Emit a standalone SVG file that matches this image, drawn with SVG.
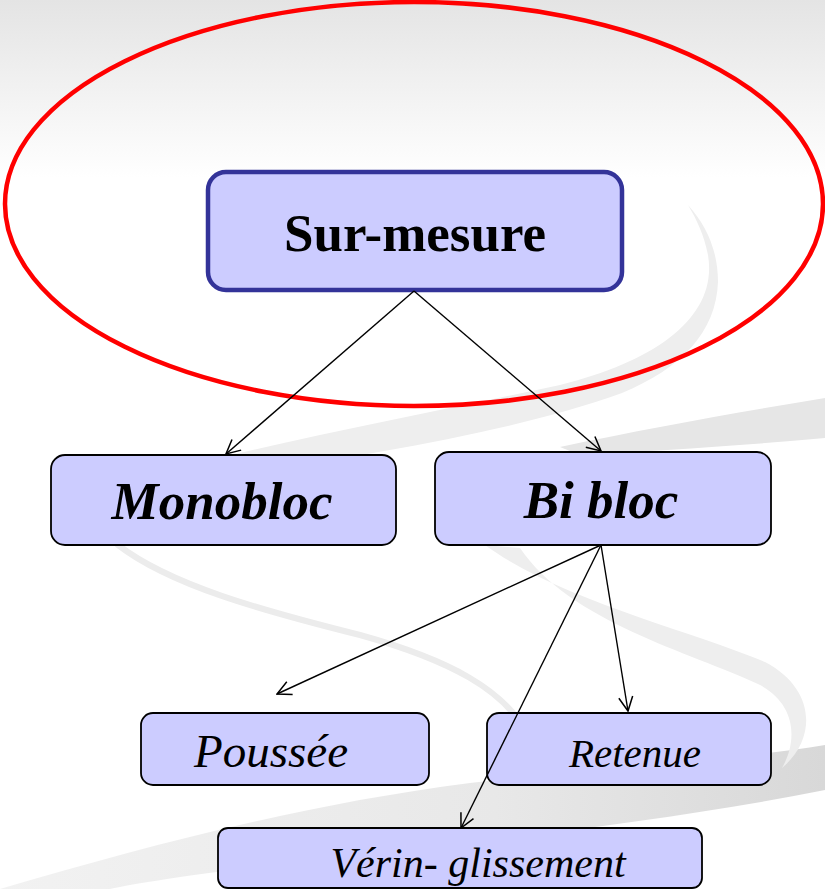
<svg xmlns="http://www.w3.org/2000/svg" width="825" height="889" viewBox="0 0 825 889">
<defs>
<linearGradient id="bg" x1="0" y1="0" x2="0" y2="1">
<stop offset="0" stop-color="#e4e4e4"/>
<stop offset="0.2" stop-color="#ffffff"/>
<stop offset="1" stop-color="#ffffff"/>
</linearGradient>
<linearGradient id="band" x1="0" y1="0" x2="1" y2="0">
<stop offset="0" stop-color="#f2f2f2"/>
<stop offset="0.6" stop-color="#e8e8e8"/>
<stop offset="1" stop-color="#d8d8d8"/>
</linearGradient>
<marker id="arr" viewBox="0 0 16 16" refX="15" refY="8" markerWidth="16" markerHeight="16" markerUnits="userSpaceOnUse" orient="auto">
<path d="M1,1 L15,8 L1,15" fill="none" stroke="#000" stroke-width="1.5"/>
</marker>
</defs>
<style>
.node{fill:#ccccff;stroke:#000;stroke-width:1.8}
.t{font-family:"Liberation Serif","Times New Roman",serif;fill:#000;text-anchor:middle}
.bi{font-weight:bold;font-style:italic;font-size:53px}
.it{font-style:italic}
.conn line{stroke:#000;stroke-width:1.4;marker-end:url(#arr)}
.sw{fill:#eeeeee}
</style>
<rect width="825" height="889" fill="url(#bg)"/>
<g id="background">
<path class="sw" d="M140,478 C260,445 420,415 560,385 C660,360 718,315 708,255 C704,235 697,220 688,205 C706,225 718,250 718,282 C716,332 682,368 622,393 C482,443 300,462 150,492 Z" fill="#f0f0f0"/>
<path d="M560,447 C650,428 740,412 825,398 L825,438 C740,446 650,451 580,455 Z" fill="#e6e6e6"/>
<path d="M0,889 C150,845 300,805 470,783 C600,768 720,762 825,745 L825,790 C700,815 560,832 430,847 C280,862 150,880 110,889 Z" fill="url(#band)"/>
<path d="M118,545 C170,585 260,610 360,635 C450,660 505,690 528,735" fill="none" stroke="#ececec" stroke-width="6" stroke-linecap="round"/>
<path class="sw" d="M485,545 C560,600 690,630 765,662 C815,688 818,738 782,768 C798,740 796,703 758,684 C690,652 570,622 520,548 Z"/>
</g>
<ellipse id="highlight" cx="414" cy="204" rx="409" ry="202" fill="none" stroke="#ff0000" stroke-width="4.5"/>
<g id="node-sur-mesure">
<rect x="208" y="172" width="414" height="118" rx="18" fill="#ccccff" stroke="#333399" stroke-width="4.5"/>
<text class="t" x="415" y="251" font-size="53" font-weight="bold">Sur-mesure</text>
</g>
<g id="node-monobloc">
<rect class="node" x="51" y="455" width="345" height="90" rx="14"/>
<text class="t bi" x="222" y="519">Monobloc</text>
</g>
<g id="node-bibloc">
<rect class="node" x="435" y="452" width="336" height="93" rx="14"/>
<text class="t bi" x="601" y="518">Bi bloc</text>
</g>
<g id="node-poussee">
<rect class="node" x="141" y="713" width="288" height="72" rx="12"/>
<text class="t it" x="271" y="767" font-size="47">Poussée</text>
</g>
<g id="node-retenue">
<rect class="node" x="487" y="713" width="284" height="72" rx="12"/>
<text class="t it" x="635" y="767" font-size="41">Retenue</text>
</g>
<g id="node-verin">
<rect class="node" x="218" y="828" width="484" height="60" rx="10"/>
<text class="t it" x="478" y="877" font-size="42">Vérin- glissement</text>
</g>
<g id="connectors" class="conn">
<line x1="414" y1="291" x2="226" y2="454"/>
<line x1="414" y1="291" x2="601" y2="451"/>
<line x1="601" y1="545" x2="277" y2="694"/>
<line x1="601" y1="545" x2="628" y2="711"/>
<line x1="601" y1="545" x2="461" y2="828"/>
</g>
</svg>
